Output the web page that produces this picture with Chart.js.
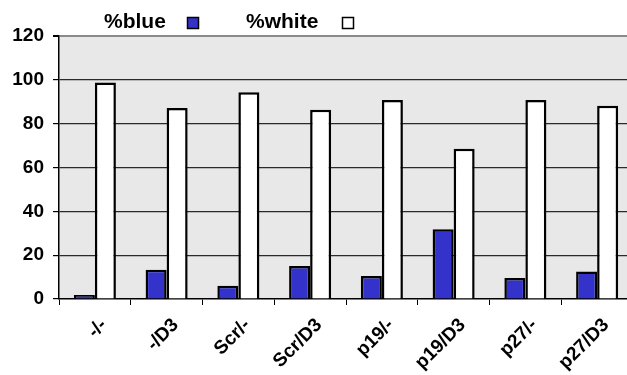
<!DOCTYPE html>
<html>
<head>
<meta charset="utf-8">
<title>%blue / %white</title>
<script src="https://cdn.jsdelivr.net/npm/chart.js@4/dist/chart.umd.min.js"></script>
<style>
  html, body { margin: 0; padding: 0; background: #ffffff; overflow: hidden; }
  #wrap { width: 627px; height: 375px; overflow: hidden; }
</style>
</head>
<body>
<div id="wrap"><canvas id="chart" width="633" height="375"></canvas></div>
<script>
// Conditions along the x axis
const categories = ['-/-', '-/D3', 'Scr/-', 'Scr/D3', 'p19/-', 'p19/D3', 'p27/-', 'p27/D3'];

// Percentage of blue and white colonies per condition
const blueValues  = [1.8, 13.4, 6.1, 15.1, 10.5, 31.8, 9.6, 12.5];
const whiteValues = [98.8, 87.2, 94.3, 86.4, 90.8, 68.6, 90.8, 88.2];

// Y axis ticks
const yTicks = [0, 20, 40, 60, 80, 100, 120];

const seriesNames = ['%blue', '%white'];

const FONT = '"Liberation Sans", Arial, sans-serif';

// Grey plot background behind grid and bars
const plotBackground = {
  id: 'plotBackground',
  beforeDraw(chart) {
    const { ctx, chartArea: a } = chart;
    ctx.save();
    ctx.fillStyle = '#e8e8e8';
    ctx.fillRect(a.left, a.top, a.right - a.left, a.bottom - a.top);
    ctx.restore();
  }
};

// Legend row above the plot: label text followed by its swatch
const labelFirstLegend = {
  id: 'labelFirstLegend',
  afterDraw(chart) {
    const { ctx } = chart;
    const textX = [104, 246];
    const boxX = [187, 342];
    ctx.save();
    ctx.font = 'bold 21px ' + FONT;
    ctx.textBaseline = 'middle';
    ctx.textAlign = 'left';
    chart.data.datasets.forEach((ds, i) => {
      ctx.fillStyle = '#000000';
      ctx.fillText(ds.label, textX[i], 22);
      ctx.fillStyle = ds.backgroundColor;
      ctx.fillRect(boxX[i] + 0.5, 17.5, 11, 11);
      ctx.strokeStyle = '#000000';
      ctx.lineWidth = 1.5;
      ctx.strokeRect(boxX[i] + 0.5, 17.5, 11, 11);
    });
    ctx.restore();
  }
};

new Chart(document.getElementById('chart'), {
  type: 'bar',
  data: {
    labels: categories,
    datasets: [
      {
        label: seriesNames[0],
        data: blueValues,
        backgroundColor: '#3333cc',
        borderColor: '#000000',
        borderWidth: 2.5,
        categoryPercentage: 0.586,
        barPercentage: 1.0
      },
      {
        label: seriesNames[1],
        data: whiteValues,
        backgroundColor: '#ffffff',
        borderColor: '#000000',
        borderWidth: 2.5,
        categoryPercentage: 0.586,
        barPercentage: 1.0
      }
    ]
  },
  options: {
    responsive: false,
    animation: false,
    devicePixelRatio: 1,
    layout: { padding: { top: 36, right: 0, bottom: 0, left: 0 } },
    plugins: {
      legend: { display: false },
      tooltip: { enabled: false }
    },
    scales: {
      x: {
        grid: {
          offset: true,
          drawOnChartArea: false,
          drawTicks: true,
          tickLength: 6,
          tickColor: '#000000',
          color: '#000000'
        },
        border: { color: '#000000', width: 1.5 },
        ticks: {
          color: '#000000',
          font: { family: FONT, size: 19, weight: 'bold' },
          minRotation: 45,
          maxRotation: 45,
          autoSkip: false,
          labelOffset: 9,
          padding: 9
        },
        afterFit(scale) { scale.height = 76; }
      },
      y: {
        min: yTicks[0],
        max: yTicks[yTicks.length - 1],
        afterBuildTicks(scale) { scale.ticks = yTicks.map(v => ({ value: v })); },
        grid: {
          color: ctx => (ctx.tick && ctx.tick.value === 120) ? '#8a8a8a' : (ctx.tick && ctx.tick.value === 0 ? 'rgba(0,0,0,0)' : '#2a2a2a'),
          lineWidth: ctx => (ctx.tick && ctx.tick.value === 120) ? 2 : 1.2,
          tickColor: '#000000',
          tickLength: 6
        },
        border: { color: '#000000', width: 1.5 },
        ticks: {
          color: '#000000',
          font: { family: FONT, size: 19, weight: 'bold' },
          padding: 9
        },
        afterFit(scale) { scale.width = 59; }
      }
    }
  },
  plugins: [plotBackground, labelFirstLegend]
});
</script>
</body>
</html>
